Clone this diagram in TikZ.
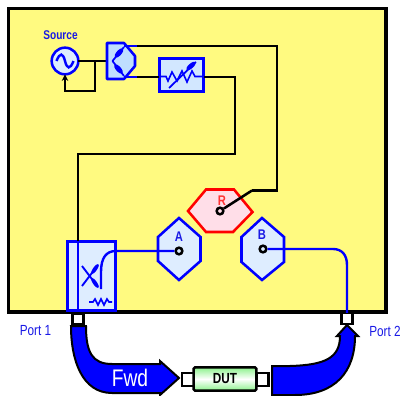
\documentclass[tikz,border=0pt]{standalone}
\usepackage{fontspec}
\setmainfont{Liberation Sans}[FakeStretch=0.8]
\usepackage{tikz}
\usetikzlibrary{arrows.meta,calc,positioning}
\definecolor{panelyellow}{rgb}{1.00,0.98,0.50}
\definecolor{pureblue}{rgb}{0.00,0.00,1.00}
\definecolor{labelblue}{rgb}{0.10,0.10,0.90}
\definecolor{paleblue}{rgb}{0.87,0.93,1.00}
\definecolor{midblue}{rgb}{0.75,0.87,1.00}
\definecolor{palepink}{rgb}{1.00,0.87,0.91}
\definecolor{dutgreen}{rgb}{0.55,0.95,0.55}
\tikzset{
  cable/.style={
    line width=1.9pt,
    black
  },
  bluewire/.style={
    line width=1.8pt,
    pureblue
  },
  hexa/.style={
    line width=1.9pt,
    draw=pureblue,
    fill=paleblue,
    line join=miter
  },
  probe/.style={
    circle,
    draw=black,
    fill=paleblue,
    line width=1.9pt,
    inner sep=0pt,
    minimum size=5pt
  },
  devbox/.style={
    draw=pureblue,
    fill=paleblue,
    line width=1.9pt,
    inner sep=0pt,
    outer sep=0pt
  },
  portbox/.style={
    draw=black,
    fill=white,
    line width=1.8pt,
    inner sep=0pt,
    outer sep=0pt
  },
  bigarrow/.style={
    draw=black,
    fill=pureblue,
    line width=1.5pt,
    line join=miter
  },
  caption/.style={
    text=labelblue,
    font=\fontsize{11}{12}\selectfont,
    inner sep=0pt
  },
  hexlabel/.style={
    text=labelblue,
    font=\fontsize{10.5}{12}\selectfont\bfseries,
    inner sep=0pt
  }
}
\begin{document}
\begin{tikzpicture}[x=.75pt,y=-.75pt]
\useasboundingbox (0,0) rectangle (401,396);
\draw[fill=panelyellow,line width=2.4pt] (8.5,8.5) rectangle (386,312);
% signal path
\node[devbox,circle,minimum size=20pt] (source) at (65,61) {};
\node[caption,font=\fontsize{9.5}{10}\selectfont\bfseries] (sourcelbl) at (60.5,35) {Source};
\draw[bluewire] (56.5,61) .. controls (60,52) and (63,53) .. (65,61) .. controls (67,69) and (70,70) .. (73.5,61);
\node[devbox,fill=midblue!40!paleblue,minimum width=33pt,minimum height=25pt] (atten) at (181.5,75) {};
\node[devbox,minimum width=36pt,minimum height=52pt] (coupler) at (91.5,276) {};
\coordinate (splitin) at (112,61);
\coordinate (splittop) at (135,46);
\coordinate (splitbot) at (135,77);
\coordinate (srcloop) at (95,61);
\coordinate (rturn) at (252,190.5);
\coordinate (attnin) at (159,77);
\coordinate (attnout) at (204,77);
\draw[cable] (source) -- (splitin);
\draw[cable,-{Stealth[length=5pt,width=5pt]}] (srcloop) -- (95,91) -- (65,91) -- (source);
\draw[cable] (splittop) -- (277,46) -- (277,190.5) -- (rturn);
\draw[cable] (splitbot) -- (attnin);
\draw[cable] (attnout) -- (235,77) -- (235,154) -- (78,154) -- (78,241);
% splitter
\draw[devbox,fill=midblue,line join=round] (107,43) -- (124,43) -- (135,56) -- (135,66) -- (124,79) -- (107,79) -- cycle;
\draw[bluewire] (124,46) -- (137,46);
\draw[bluewire] (124,77) -- (137,77);
\draw[bluewire,line width=1.3pt] (112.5,61) -- (124,47);
\draw[bluewire,line width=1.3pt] (112.5,61) -- (124,76);
\fill[pureblue,rotate around={48:(119,53)}] (119,53) ellipse (4.5pt and 1.9pt);
\fill[pureblue,rotate around={-48:(118.5,69)}] (118.5,69) ellipse (4.5pt and 1.9pt);
% attenuator
\draw[bluewire,line width=1.2pt] (159,76.5) -- (166,76.5) -- (168,81) -- (172,72) -- (177,81) -- (182,71) -- (187,82) -- (192,71) -- (195,76.5) -- (204,76.5);
\draw[bluewire,line width=1.3pt] (169,88) -- (196,62);
\fill[pureblue,rotate around={42:(191,66)}] (191,66) ellipse (4.5pt and 1.8pt);
% coupler
\draw[bluewire] (78,241) -- (78,312);
\draw[bluewire,line width=1.4pt] (82,286) -- (98,265);
\draw[bluewire,line width=1.4pt] (82,266) -- (98,287);
\fill[pureblue,rotate around={55:(95,269)}] (95,269) ellipse (4.5pt and 1.5pt);
\fill[pureblue,rotate around={-55:(95,283)}] (95,283) ellipse (4.5pt and 1.5pt);
\draw[bluewire,line width=1.2pt] (89,302) -- (93,302) -- (95,299) -- (98,305) -- (101,299) -- (104,305) -- (107,299) -- (109,302) -- (112,302);
% receivers
\draw[hexa,draw=red,fill=palepink] (188,211) -- (206,189.5) -- (234,189.5) -- (252.5,212) -- (233,232) -- (206,232) -- cycle;
\node[hexlabel,text=red!80!white] (rlbl) at (222,201) {R};
\node[probe,fill=palepink] (rdot) at (220,211) {};
\draw[cable] (rturn) -- (rdot);
\draw[hexa] (179,218) -- (200.5,237) -- (200.5,261) -- (179,280) -- (158,261) -- (158,237) -- cycle;
\node[hexlabel] (albl) at (179,237) {A};
\node[probe] (adot) at (179,251) {};
\draw[hexa] (262,218) -- (284,237) -- (284,262) -- (262,280) -- (241.5,262) -- (241.5,237) -- cycle;
\node[hexlabel] (blbl) at (262,235) {B};
\node[probe] (bdot) at (263,249) {};
% ports
\node[portbox,minimum width=8.5pt,minimum height=8.5pt] (port1) at (78,319) {};
\node[portbox,minimum width=8.5pt,minimum height=8.5pt] (port2) at (347,318.5) {};
\node[caption] (port1lbl) at (35.5,331) {Port 1};
\node[caption] (port2lbl) at (385,331) {Port 2};
\draw[bluewire] (101,289) -- (101,272) .. controls (101,258) and (106,251) .. (116,251) -- (adot);
\draw[bluewire] (bdot) -- (333,249) .. controls (342,249) and (347,255) .. (347,265) -- (port2);
% arrows
\draw[bigarrow] (71,326) -- (86,326) .. controls (86,352) and (92,364) .. (112,364) -- (160,364) -- (160,361) -- (179,378) -- (160,395) -- (160,393) -- (112,393) .. controls (82,393) and (71,360) .. (71,326) -- cycle;
\node[text=white,font=\fontsize{18}{19}\selectfont,inner sep=0pt] (fwd) at (130,378) {Fwd};
\draw[bigarrow] (272,366) -- (290,366) .. controls (325,365) and (340,358) .. (340,336) -- (337,336) -- (347,325) -- (358,336) -- (355,336) .. controls (355,372) and (335,395) .. (295,395) -- (272,395) -- cycle;
% device
\node[portbox,minimum width=9pt,minimum height=9.5pt] (dutleft) at (188,379.5) {};
\node[portbox,minimum width=9pt,minimum height=9.5pt] (dutright) at (262.5,379.5) {};
\node[draw=black,line width=1.9pt,rounded corners=1pt,minimum width=47pt,minimum height=17.5pt,inner sep=0pt,top color=dutgreen,bottom color=dutgreen,middle color=white,font=\fontsize{11}{12}\selectfont\bfseries] (dut) at (225,379) {DUT};
\end{tikzpicture}
\end{document}
